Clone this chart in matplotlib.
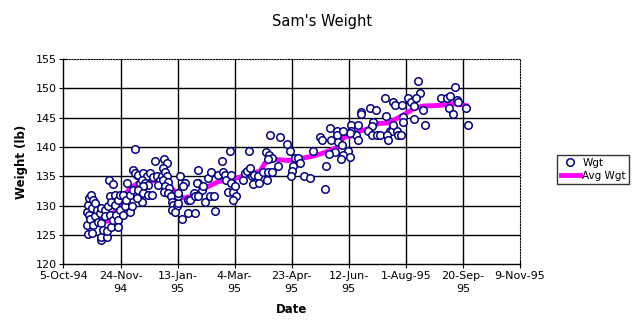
import matplotlib
matplotlib.use("Agg")
import matplotlib.pyplot as plt
from matplotlib.lines import Line2D

# days since 5-Oct-94 and weight in lb
wgt_days = [
    21, 21, 21.6, 21.6, 22, 22, 23, 24.5, 25, 25, 26, 26, 27.5, 28, 29, 30.4,
    31.9, 32.7, 33, 33, 33, 34.8, 36, 36, 37.7, 38.5, 39, 40, 40.6, 40.6, 42, 42,
    43, 43.5, 45, 45, 46.4, 48, 48, 48, 49.4, 49.4, 52, 52.3, 53.8, 55, 55.5, 58,
    58, 59.6, 61, 61, 62.5, 64, 64, 65, 67,
    62.8, 65.7, 70, 73, 76, 78.8, 68.7, 71.5, 74.4, 70, 65.7, 70, 74.4, 77.4,
    68.7, 64.3, 81.8, 84.7, 83.2, 86,
    80.3, 88.2, 90.5, 87.6, 89, 90.5, 87.6, 92, 89, 92.6, 88.4, 92, 94.3, 95,
    96.3, 99.3, 95.5, 97.8, 100, 100.7, 102, 106.6, 105, 109, 111, 114, 115, 118,
    118, 109.5, 115, 104, 100.7,
    116.8, 121, 122.6, 118, 124, 128.5, 132.2, 126.5, 129.3, 132.8, 138.7, 135.7,
    140, 141.6, 142.2, 146, 146.9, 146.9, 144.5, 148.9, 150.4, 151, 148.9, 157.6,
    159.1, 160.6, 162.9, 163.5, 165, 166.4, 167.3, 170.8, 171.4,
    181, 189.8, 195.6, 177.2, 180, 183, 179, 187.7, 175.1, 179.5, 183, 178,
    198.5, 203, 205.8, 201.4, 200, 199.4, 207.3, 211, 216, 218.4, 224.8, 226.3,
    233.5, 234.4, 239.4, 239.4, 237.9, 232.7, 230, 229.2,
    310.3, 312, 282, 289, 290.5, 296.3, 301.6, 304.5, 308.6, 307.4, 268.6, 273.6,
    260.7, 282.3, 297.7, 297.7, 307.1, 271.5, 270, 251.9, 258.3, 256, 251.9, 267,
    270, 274.5, 277.3, 286, 288, 292, 293.4, 295.7, 283.2, 284, 257.8, 251,
    245.2, 240.8, 243.8, 249.6, 245.2, 251, 243.2, 289, 260.4,
    314.7, 316.7, 330.7, 335.7, 338.6, 343, 344.5, 345.9, 337.7, 341, 352.4, 354.1,
]
wgt_vals = [
    129.0, 126.7, 130.2, 125.2, 131.3, 128.4, 127.7, 131.9, 129.6, 125.3, 131.0,
    126.7, 128.2, 130.5, 129.3, 127.3, 128.8, 124.2, 129.6, 127.0, 124.7, 125.9,
    129.3, 128.2, 124.7, 125.6, 129.9, 134.3, 131.6, 128.4, 130.7, 126.4, 133.7,
    127.6, 130.2, 131.9, 128.4, 131.0, 127.6, 126.4, 129.3, 131.9, 128.4, 131.9,
    129.9, 131.0, 133.8, 129.0, 131.9, 129.9, 136.1, 132.7, 139.7, 135.2, 131.9,
    131.3, 133.9,
    135.6, 135.3, 135.6, 135.1, 135.5, 134.9, 134.4, 133.9, 133.6, 133.3, 132.7,
    132.2, 131.9, 131.9, 130.7, 131.3, 135.1, 134.4, 133.6, 135.0,
    137.7, 138.0, 137.3, 136.4, 135.8, 135.0, 134.4, 134.1, 133.3, 133.0, 132.4,
    132.2, 131.6, 130.7, 130.2, 129.9, 129.3, 129.0, 130.4, 131.6, 135.1, 133.9,
    133.3, 131.0, 130.9, 132.2, 131.6, 133.9, 136.1, 128.8, 128.8, 127.8, 132.2,
    133.9, 132.7, 133.3, 131.6, 130.7, 131.7, 131.7, 134.8, 135.7, 129.1, 137.7,
    135.2, 135.8, 135.2, 134.3, 139.3, 135.3, 133.9, 132.3, 132.3, 133.3, 131.7,
    131.0, 134.3, 135.6, 135.9, 139.3, 136.4, 135.0, 133.7, 135.3, 135.0, 133.9,
    142.1, 141.7, 140.6, 139.2, 138.7, 138.2, 137.9, 136.7, 135.7, 135.7, 135.7,
    134.3,
    139.3, 138.2, 138.2, 136.7, 135.9, 135.1, 137.3, 135.1, 134.8, 139.3, 141.7,
    141.2, 143.2, 141.2, 142.7, 142.0, 139.2, 138.8, 136.7, 132.8,
    151.3, 149.2, 148.3, 147.7, 147.2, 147.2, 148.3, 147.7, 148.3, 147.0, 146.7,
    146.3, 145.9, 145.3, 145.2, 144.2, 144.7, 144.2, 143.6, 143.7, 143.7, 142.1,
    142.7, 142.7, 142.1, 142.1, 142.1, 142.7, 142.7, 142.7, 142.1, 142.1, 142.1,
    141.2, 141.2, 142.4, 142.7, 140.8, 140.3, 139.3, 138.7, 138.3, 137.9, 143.7,
    145.7,
    146.3, 143.7, 148.3, 148.3, 148.7, 150.2, 148.1, 147.7, 146.7, 145.7, 146.7,
    143.7,
]

# moving average
avg_days = [21, 27.5, 35, 40, 46.8, 52.5, 58.4, 65.7, 74.4, 83.2, 92, 100, 105,
            112.4, 118.2, 127, 135.7, 144.5, 153.2, 162, 172.3, 176.6, 185.4,
            197, 205.8, 217.5, 226.3, 240.8, 242.3, 246.7, 251, 258.3, 265.7,
            275.8, 284.6, 296.3, 306.5, 315.3, 329.9, 341.5, 348.9, 354.7]
avg_vals = [129.3, 129.0, 127.3, 127.4, 129.6, 131.6, 133.0, 133.9, 134.1, 134.4,
            133.5, 132.0, 131.3, 131.6, 132.2, 133.3, 134.1, 134.4, 134.8, 135.3,
            135.9, 137.3, 137.9, 137.7, 138.0, 138.4, 138.9, 140.0, 141.0, 141.8,
            141.8, 142.7, 143.0, 144.0, 144.1, 145.3, 146.5, 147.0, 147.1, 147.4,
            147.2, 147.0]

tick_days = [0, 50, 100, 150, 200, 250, 300, 350, 400]
tick_labels = ["5-Oct-94", "24-Nov-\n94", "13-Jan-\n95", "4-Mar-\n95",
               "23-Apr-\n95", "12-Jun-\n95", "1-Aug-95", "20-Sep-\n95", "9-Nov-95"]
y_ticks = [120, 125, 130, 135, 140, 145, 150, 155]

plt.rcParams['font.family'] = ['DejaVu Sans']

fig = plt.figure(figsize=(6.4, 3.3), dpi=100)
ax = fig.add_axes([0.0992, 0.199, 0.7133, 0.622])

ax.plot(avg_days, avg_vals, color='#ff00ff', lw=3.5, zorder=2, solid_capstyle='butt')
ax.plot(wgt_days, wgt_vals, 'o', ms=5.4, mfc='white', mec='#000080', mew=1.1,
        linestyle='none', zorder=3)

ax.set_xlim(0, 400)
ax.set_ylim(120, 155)
ax.set_xticks(tick_days)
ax.set_xticklabels(tick_labels, fontsize=8, linespacing=1.4)
ax.set_yticks(y_ticks)
ax.set_yticklabels([str(v) for v in y_ticks], fontsize=8)
ax.tick_params(direction='inout', length=6, width=0.8, color='black', pad=2)

ax.grid(True, color='black', lw=1.0)
for gl in ax.get_xgridlines()[:1] + ax.get_xgridlines()[-1:]:
    gl.set_visible(False)
for gl in ax.get_ygridlines()[:1] + ax.get_ygridlines()[-1:]:
    gl.set_visible(False)
ax.set_axisbelow(True)

for side in ['top', 'right']:
    ax.spines[side].set_linestyle((0, (1, 1.5)))
    ax.spines[side].set_linewidth(0.8)
for side in ['left', 'bottom']:
    ax.spines[side].set_linewidth(1.0)

ax.set_xlabel("Date", fontsize=8.5, fontweight='bold', labelpad=6)
ax.set_ylabel("Weight (lb)", fontsize=8.5, fontweight='bold', labelpad=5)
fig.text(0.503, 0.935, "Sam's Weight", ha='center', va='center', fontsize=10.5)

handles = [
    Line2D([], [], marker='o', ms=5.4, mfc='white', mec='#000080', mew=1.1, linestyle='none'),
    Line2D([], [], color='#ff00ff', lw=3.5),
]
leg = fig.legend(handles, ["Wgt", "Avg Wgt"], loc='center left',
                 bbox_to_anchor=(0.871, 0.487), fontsize=7.5, frameon=True,
                 fancybox=False, shadow=False, borderpad=0.3, handlelength=1.9,
                 handletextpad=0.2, labelspacing=0.3, borderaxespad=0)
leg.get_frame().set_edgecolor('black')
leg.get_frame().set_linewidth(1.0)

fig.savefig("out.png", dpi=100)
